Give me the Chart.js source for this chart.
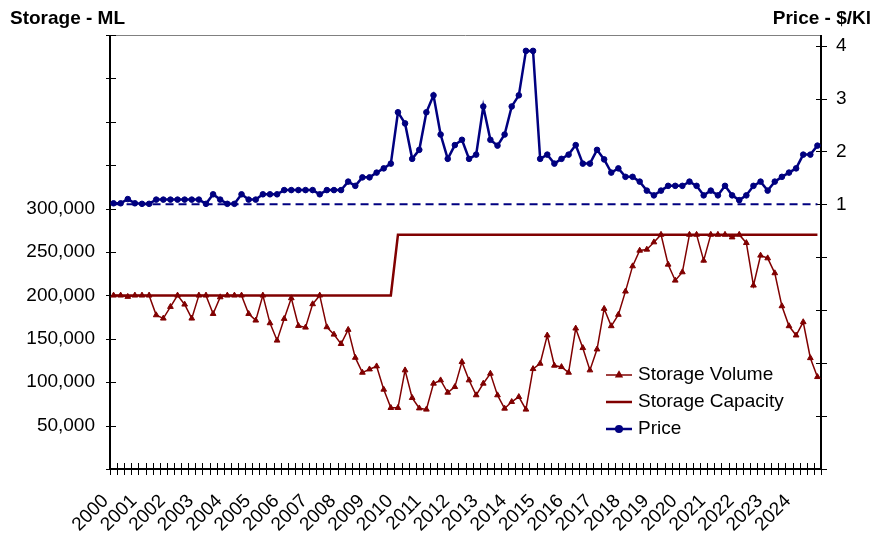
<!DOCTYPE html>
<html>
<head>
<meta charset="utf-8">
<script src="https://cdn.jsdelivr.net/npm/chart.js@4.4.1/dist/chart.umd.min.js"></script>
<style>
  html, body { margin: 0; padding: 0; background: #fff; }
  #wrap { width: 873px; height: 536px; }
</style>
</head>
<body>
<div id="wrap"><canvas id="chart" width="873" height="536"></canvas></div>
<script>
// quarterly series, 2000 Q1 .. 2024 Q4
const years = [2000, 2001, 2002, 2003, 2004, 2005, 2006, 2007, 2008, 2009, 2010, 2011, 2012,
  2013, 2014, 2015, 2016, 2017, 2018, 2019, 2020, 2021, 2022, 2023, 2024];
const quarters = ['Q1', 'Q2', 'Q3', 'Q4'];
const categories = years.flatMap(y => quarters.map(q => `${y} ${q}`));

// ML
const storageVolume = [
  200000, 200000, 198500, 200000, 200000, 200000, 177300, 173500, 186900, 200000,
  189600, 173500, 200000, 200000, 178800, 198000, 200000, 200000, 200000, 178800,
  171200, 200000, 168100, 148100, 173100, 196900, 165000, 163100, 190000, 200000,
  163500, 155000, 144200, 160500, 128300, 111100, 114900, 118400, 91600, 70500,
  70500, 113800, 82000, 70000, 68600, 98500, 102300, 88100, 94600, 123400,
  102300, 85100, 98500, 110000, 85100, 69700, 77400, 83100, 68600, 115300,
  121500, 154000, 119200, 117600, 111100, 162000, 139500, 113800, 137900, 184700,
  164700, 177800, 204600, 233700, 251700, 252900, 261300, 270000, 235600, 217200,
  226800, 270000, 270000, 240200, 270000, 270000, 270000, 267000, 270000, 260500,
  211500, 246000, 242900, 225700, 187700, 164700, 154000, 169300, 127900, 106100
];

const storageCapacity = [
  200000, 200000, 200000, 200000, 200000, 200000, 200000, 200000, 200000, 200000,
  200000, 200000, 200000, 200000, 200000, 200000, 200000, 200000, 200000, 200000,
  200000, 200000, 200000, 200000, 200000, 200000, 200000, 200000, 200000, 200000,
  200000, 200000, 200000, 200000, 200000, 200000, 200000, 200000, 200000, 200000,
  270000, 270000, 270000, 270000, 270000, 270000, 270000, 270000, 270000, 270000,
  270000, 270000, 270000, 270000, 270000, 270000, 270000, 270000, 270000, 270000,
  270000, 270000, 270000, 270000, 270000, 270000, 270000, 270000, 270000, 270000,
  270000, 270000, 270000, 270000, 270000, 270000, 270000, 270000, 270000, 270000,
  270000, 270000, 270000, 270000, 270000, 270000, 270000, 270000, 270000, 270000,
  270000, 270000, 270000, 270000, 270000, 270000, 270000, 270000, 270000, 270000
];

// $/Kl
const price = [
  1.02, 1.02, 1.10, 1.02, 1.01, 1.01, 1.09, 1.09, 1.09, 1.09,
  1.09, 1.09, 1.09, 1.01, 1.19, 1.09, 1.01, 1.01, 1.19, 1.09,
  1.09, 1.19, 1.19, 1.19, 1.27, 1.27, 1.27, 1.27, 1.27, 1.19,
  1.27, 1.27, 1.27, 1.43, 1.35, 1.51, 1.51, 1.60, 1.68, 1.77,
  2.74, 2.53, 1.86, 2.03, 2.74, 3.06, 2.32, 1.86, 2.12, 2.22,
  1.86, 1.94, 2.85, 2.22, 2.11, 2.32, 2.85, 3.06, 3.90, 3.90,
  1.86, 1.94, 1.77, 1.86, 1.94, 2.12, 1.77, 1.77, 2.03, 1.85,
  1.60, 1.68, 1.52, 1.52, 1.43, 1.26, 1.17, 1.26, 1.35, 1.35,
  1.35, 1.43, 1.35, 1.17, 1.26, 1.17, 1.35, 1.17, 1.08, 1.17,
  1.35, 1.43, 1.26, 1.43, 1.52, 1.60, 1.68, 1.94, 1.94, 2.11
];

const priceBaseline = 1;

const FONT = "'Liberation Sans', Arial, Helvetica, sans-serif";
const MAROON = '#800000';
const NAVY = '#000080';

Chart.defaults.font.family = FONT;
Chart.defaults.font.size = 19;
Chart.defaults.color = '#000';

// Excel-style axes: thick lines with ticks that cross the axis
const axesPlugin = {
  id: 'excelAxes',
  beforeDatasetsDraw(chart) {
    const { ctx, chartArea: a, scales } = chart;
    ctx.save();
    ctx.strokeStyle = '#808080';
    ctx.lineWidth = 1;
    ctx.beginPath();
    ctx.moveTo(a.left, a.top + 0.5);
    ctx.lineTo(a.right, a.top + 0.5);
    ctx.stroke();

    ctx.strokeStyle = '#000';
    ctx.lineWidth = 1;
    ctx.beginPath();
    for (let v = 0; v <= 500000; v += 50000) {
      const y = Math.round(scales.y.getPixelForValue(v)) + 0.5;
      ctx.moveTo(a.left - 4, y);
      ctx.lineTo(a.left + 6, y);
    }
    for (let v = -4; v <= 4; v++) {
      const y = Math.round(scales.y1.getPixelForValue(v)) + 0.5;
      ctx.moveTo(a.right - 5, y);
      ctx.lineTo(a.right + 6, y);
    }
    for (let k = 0; k <= categories.length; k++) {
      const x = Math.round(scales.x.getPixelForValue(k - 0.5)) + 0.5;
      ctx.moveTo(x, a.bottom - 6);
      ctx.lineTo(x, a.bottom + 6);
    }
    ctx.stroke();

    ctx.lineWidth = 2;
    ctx.beginPath();
    ctx.moveTo(a.left, a.top);
    ctx.lineTo(a.left, a.bottom);
    ctx.moveTo(a.right, a.top);
    ctx.lineTo(a.right, a.bottom);
    ctx.moveTo(a.left, a.bottom);
    ctx.lineTo(a.right, a.bottom);
    ctx.stroke();
    ctx.restore();
  }
};

const titlesPlugin = {
  id: 'axisTitles',
  afterDraw(chart) {
    const { ctx } = chart;
    ctx.save();
    ctx.fillStyle = '#000';
    ctx.font = `bold 19px ${FONT}`;
    ctx.textBaseline = 'alphabetic';
    ctx.textAlign = 'left';
    ctx.fillText('Storage - ML', 10, 24);
    ctx.textAlign = 'right';
    ctx.fillText('Price - $/Kl', 871, 24);
    ctx.restore();
  }
};

const legendPlugin = {
  id: 'boxLegend',
  afterDraw(chart) {
    const { ctx } = chart;
    ctx.save();
    ctx.font = `19px ${FONT}`;
    ctx.textBaseline = 'middle';
    ctx.textAlign = 'left';
    chart.data.datasets.slice(0, 3).forEach((ds, i) => {
      const y = 375 + i * 27;
      ctx.strokeStyle = ds.borderColor;
      ctx.lineWidth = ds.borderWidth;
      ctx.beginPath();
      ctx.moveTo(606, y);
      ctx.lineTo(632, y);
      ctx.stroke();
      if (ds.pointRadius > 0) {
        ctx.fillStyle = ds.pointBackgroundColor;
        ctx.strokeStyle = ds.pointBorderColor;
        Chart.helpers.drawPoint(ctx, {
          pointStyle: ds.pointStyle, radius: ds.pointRadius, rotation: 0, borderWidth: 1
        }, 619, y);
      }
      ctx.fillStyle = '#000';
      ctx.fillText(ds.label, 638, y);
    });
    ctx.restore();
  }
};

new Chart(document.getElementById('chart'), {
  type: 'line',
  data: {
    labels: categories,
    datasets: [
      {
        label: 'Storage Volume',
        data: storageVolume,
        yAxisID: 'y',
        borderColor: MAROON,
        borderWidth: 1.5,
        pointStyle: 'triangle',
        pointRadius: 3.3,
        pointBackgroundColor: MAROON,
        pointBorderColor: MAROON,
        pointBorderWidth: 1,
        tension: 0
      },
      {
        label: 'Storage Capacity',
        data: storageCapacity,
        yAxisID: 'y',
        borderColor: MAROON,
        borderWidth: 2.5,
        pointRadius: 0,
        tension: 0
      },
      {
        label: 'Price',
        data: price,
        yAxisID: 'y1',
        borderColor: NAVY,
        borderWidth: 2.5,
        pointStyle: 'circle',
        pointRadius: 2.8,
        pointBackgroundColor: NAVY,
        pointBorderColor: NAVY,
        pointBorderWidth: 1,
        tension: 0
      },
      {
        label: 'Price baseline',
        data: [
          { x: categories[0], y: priceBaseline },
          { x: categories[categories.length - 1], y: priceBaseline }
        ],
        yAxisID: 'y1',
        borderColor: NAVY,
        borderWidth: 2,
        borderDash: [8, 5],
        pointRadius: 0,
        tension: 0
      }
    ]
  },
  options: {
    responsive: false,
    animation: false,
    layout: { padding: { top: 35, left: 0, right: 0, bottom: 0 } },
    plugins: {
      legend: { display: false },
      tooltip: { enabled: false },
      title: { display: false }
    },
    scales: {
      x: {
        type: 'category',
        offset: true,
        grid: { display: false, drawTicks: false },
        border: { display: false },
        ticks: {
          autoSkip: false,
          maxRotation: 45,
          minRotation: 45,
          padding: 21,
          labelOffset: -8,
          color: '#000',
          callback(value) {
            const [year, q] = this.getLabelForValue(value).split(' ');
            return q === 'Q1' ? year : '';
          }
        },
        afterFit(scale) { scale.height = 67; }
      },
      y: {
        position: 'left',
        min: 0,
        max: 500000,
        grid: { display: false, drawTicks: false },
        border: { display: false },
        ticks: {
          stepSize: 50000,
          padding: 15,
          color: '#000',
          callback: v => (v > 0 && v <= 300000 ? v.toLocaleString('en-US') : '')
        },
        afterFit(scale) { scale.width = 110; }
      },
      y1: {
        position: 'right',
        min: -4,
        max: 4.2,
        grid: { display: false, drawTicks: false },
        border: { display: false },
        ticks: {
          stepSize: 1,
          includeBounds: false,
          padding: 15,
          color: '#000',
          callback: v => (Number.isInteger(v) && v >= 1 && v <= 4 ? String(v) : '')
        },
        afterFit(scale) { scale.width = 52; }
      }
    }
  },
  plugins: [axesPlugin, titlesPlugin, legendPlugin]
});
</script>
</body>
</html>
